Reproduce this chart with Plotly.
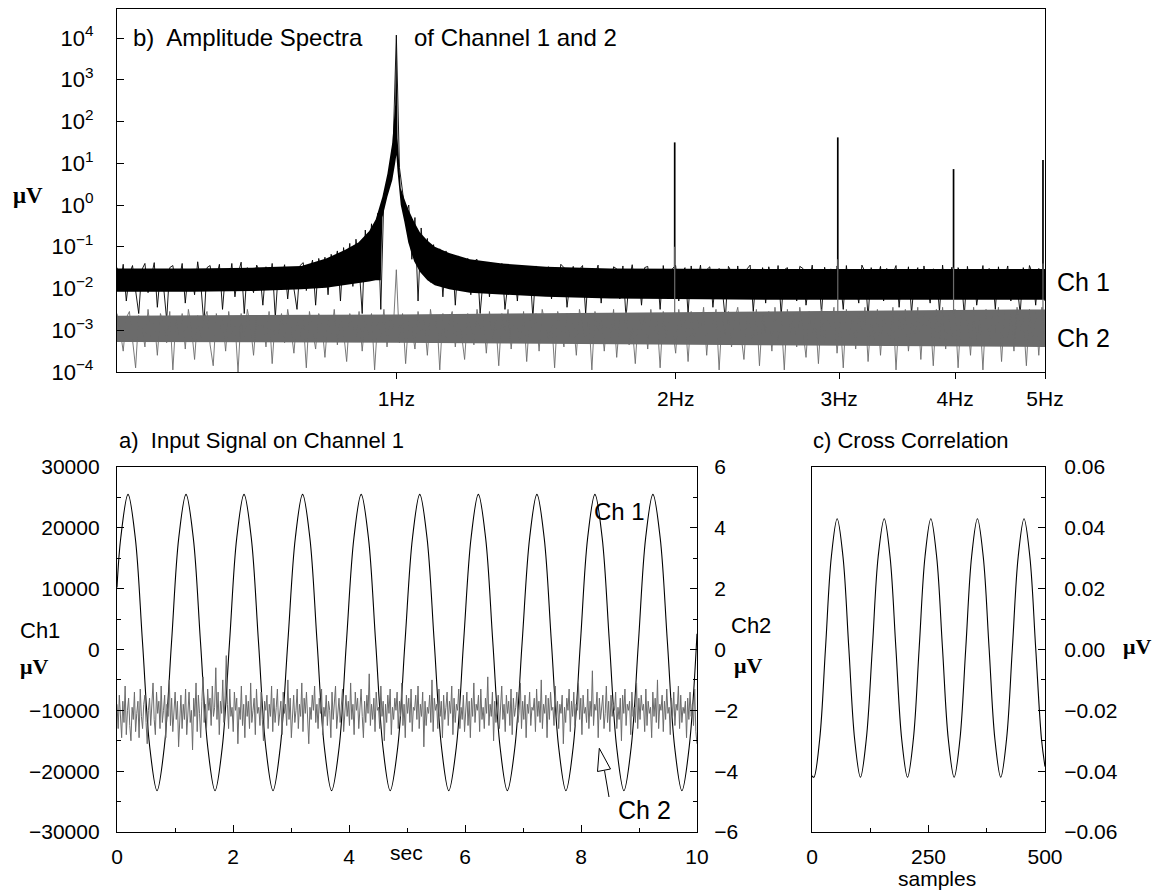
import numpy as np
import plotly.graph_objects as go

# the page body adds an 8 px margin, so the figure is drawn 8 px smaller and offset
OFF = 8
W, H = 1162 - OFF, 891 - OFF
SANS = "Liberation Sans, Arial, sans-serif"
SERIF = "Liberation Serif, Times New Roman, serif"
BLACK = "#000000"
GRAY = "#6b6b6b"

# ---------------- b) amplitude spectra (log10 of amplitude, read from picture) -------------
spec_f_min, spec_f_max = 0.5, 5.0
ch1_spec_log = [
    -1.5, -1.9, -1.42, -2.3, -1.65, -1.45, -2.05, -2.6, -1.55, -1.4,
    -2.1, -1.7, -1.38, -2.45, -1.6, -1.95, -2.75, -1.5, -1.45, -2.0,
    -1.8, -1.4, -2.35, -1.55, -1.62, -2.15, -1.36, -1.9, -2.85, -1.5,
    -1.45, -2.05, -1.7, -1.42, -2.5, -1.58, -1.95, -1.4, -2.2, -1.65,
    -1.37, -2.6, -1.5, -1.85, -2.1, -1.44, -1.6, -2.4, -1.48, -2.0,
    -1.4, -2.7, -1.55, -1.75, -1.43, -2.25, -1.5, -1.95, -2.5, -1.45,
    -1.38, -2.05, -1.6, -1.32, -2.4, -1.28, -1.7, -1.25, -2.15, -1.18,
    -1.5, -1.1, -2.3, -1.02, -1.6, -0.92, -1.95, -0.82, -1.45, -2.6,
    -0.6, -1.7, -0.45, -1.3, -0.2, -2.5, 0.25, 0.45, 0.9, 1.5,
    4.07, 0.9, 0.35, -0.25, 0.0, -1.3, -0.3, -2.3, -0.55, -1.5,
    -0.8, -1.85, -0.95, -1.9, -1.05, -2.2, -1.1, -2.0, -1.18, -2.4,
    -1.22, -1.5, -1.95, -1.28, -2.15, -1.35, -1.3, -2.6, -1.75, -1.38,
    -2.2, -1.42, -1.6, -2.0, -1.4, -2.5, -1.85, -1.45, -1.5, -2.3,
    -1.44, -2.05, -1.7, -1.52, -2.7, -1.46, -1.9, -2.15, -1.55, -1.48,
    -2.25, -1.6, -2.05, -1.42, -1.5, -2.45, -1.8, -1.47, -2.2, -1.55,
    -1.45, -2.6, -1.52, -2.0, -1.7, -1.44, -2.35, -1.56, -1.9, -2.1,
    -1.48, -1.53, -2.25, -1.46, -2.7, -1.8, -1.43, -2.0, -1.6, -2.4,
    -1.5, -1.47, -2.15, -1.75, -1.54, -2.5, -1.45, -2.05, -1.9, -1.52,
    -1.45, -2.3, -1.65, -1.5, -2.6, -1.46, -2.1, -1.85, -1.44, -2.2,
    -1.55, -1.48, -2.45, -1.7, -1.52, -2.0, -2.75, -1.47, -1.6, -2.25,
    -1.46, -2.1, -1.9, -1.53, -1.44, -2.55, -1.65, -2.0, -1.5, -2.35,
    -1.48, -1.8, -2.15, -1.45, -2.65, -1.55, -1.5, -2.05, -1.7, -2.3,
    -1.47, -1.52, -2.4, -1.85, -1.44, -2.2, -1.6, -2.6, -1.49, -1.95,
    -1.53, -2.25, -1.46, -1.75, -2.5, -1.45, -2.1, -1.55, -1.9, -2.35,
    -1.44, -1.6, -2.7, -1.5, -2.05, -1.8, -1.47, -2.3, -1.52, -2.15,
    -1.65, -1.45, -2.45, -1.55, -2.0, -1.48, -2.6, -1.7, -1.5, -2.2,
    -1.46, -1.9, -2.35, -1.53, -1.6, -2.55, -1.44, -2.1, -1.8, -1.49,
    -2.25, -1.5, -1.7, -2.65, -1.47, -2.0, -1.55, -2.4, -1.85, -1.45,
    -2.15, -1.52, -1.6, -2.5, -1.48, -2.05, -1.75, -1.46, -2.3, -1.54,
    -1.9, -2.6, -1.5, -2.1, -1.45, -1.65, -2.4, -1.52, -2.0, -2.3,
]
ch2_spec_log = [
    -2.6, -3.0, -3.5, -2.7, -2.55, -3.25, -3.9, -2.65, -2.9, -3.4,
    -2.5, -3.15, -2.75, -3.6, -2.6, -2.85, -3.3, -2.55, -3.95, -2.7,
    -3.1, -2.6, -3.45, -2.5, -2.95, -3.7, -2.65, -3.2, -2.75, -2.55,
    -3.35, -3.85, -2.6, -3.0, -2.7, -3.5, -2.55, -3.15, -2.8, -4.0,
    -2.6, -3.25, -2.5, -2.9, -3.6, -2.65, -3.05, -2.75, -3.4, -2.55,
    -3.8, -2.7, -3.1, -2.6, -3.3, -2.5, -2.95, -3.55, -2.65, -3.2,
    -2.75, -3.9, -2.55, -3.0, -3.45, -2.6, -2.85, -3.65, -2.7, -3.15,
    -2.5, -3.35, -2.65, -3.05, -3.75, -2.6, -2.9, -3.25, -2.55, -3.5,
    -2.7, -3.1, -2.6, -3.95, -2.75, -3.2, -2.5, -3.4, -2.65, -3.0,
    -1.55, -3.3, -2.6, -3.8, -2.7, -2.95, -3.45, -2.55, -3.15, -2.75,
    -3.6, -2.5, -3.05, -2.65, -3.95, -2.6, -3.25, -2.8, -2.55, -3.4,
    -2.7, -3.1, -3.7, -2.6, -2.9, -3.35, -2.5, -3.0, -2.65, -3.55,
    -2.55, -3.2, -2.75, -3.85, -2.6, -3.05, -2.5, -3.45, -2.7, -2.95,
    -3.3, -2.55, -3.75, -2.65, -3.1, -2.6, -3.5, -2.5, -2.85, -3.25,
    -2.7, -3.9, -2.55, -3.0, -3.4, -2.6, -3.15, -2.75, -3.6, -2.5,
    -2.95, -3.3, -2.65, -3.95, -2.55, -3.05, -2.7, -3.5, -2.6, -3.2,
    -2.5, -3.65, -2.75, -3.1, -2.55, -3.35, -2.9, -3.8, -2.6, -3.0,
    -2.65, -3.45, -2.5, -3.15, -2.7, -3.9, -2.55, -3.25, -2.6, -2.95,
    -3.55, -2.5, -3.05, -2.65, -3.75, -2.55, -3.3, -2.7, -3.1, -2.45,
    -3.6, -2.6, -3.0, -2.5, -3.95, -2.65, -3.2, -2.55, -3.4, -2.75,
    -2.45, -3.15, -3.7, -2.6, -2.9, -3.35, -2.5, -3.85, -2.65, -3.05,
    -2.55, -3.5, -2.45, -3.25, -2.7, -3.95, -2.5, -3.1, -2.6, -3.4,
    -2.45, -3.0, -3.65, -2.55, -3.2, -2.65, -3.8, -2.5, -3.3, -2.6,
    -2.95, -2.45, -3.55, -2.7, -3.9, -2.5, -3.15, -2.6, -3.45, -2.55,
    -3.05, -2.45, -3.75, -2.65, -3.25, -2.5, -3.6, -2.55, -2.9, -3.35,
    -2.45, -3.95, -2.6, -3.1, -2.5, -3.5, -2.7, -3.2, -2.45, -3.7,
    -2.55, -3.0, -2.65, -3.85, -2.5, -3.3, -2.45, -3.45, -2.6, -3.15,
    -2.5, -3.9, -2.55, -3.05, -2.7, -3.6, -2.45, -3.25, -2.6, -3.95,
    -2.5, -3.35, -2.65, -3.1, -2.45, -3.75, -2.55, -3.2, -2.6, -3.5,
    -2.45, -3.0, -2.7, -3.85, -2.5, -3.3, -2.55, -3.6, -2.45, -3.2,
]
# dense core of the Ch1 band (Hz, log10 upper, log10 lower)
ch1_core_f = [0.50, 0.60, 0.70, 0.79, 0.84, 0.88, 0.91, 0.935, 0.950, 0.962, 0.966, 0.978,
              0.990, 0.997, 1.000, 1.003, 1.011, 1.020, 1.030, 1.045, 1.06, 1.08, 1.10, 1.14,
              1.2, 1.3, 1.45, 1.7, 2.5, 5.0]
ch1_core_hi = [-1.52, -1.52, -1.5, -1.46, -1.28, -1.08, -0.9, -0.62, -0.35, 0.1, 0.2, 0.75,
               1.5, 2.4, 4.05, 1.6, 0.4, 0.15, -0.1, -0.4, -0.65, -0.85, -1.0, -1.15,
               -1.3, -1.4, -1.48, -1.52, -1.53, -1.53]
ch1_core_lo = [-2.08, -2.08, -2.06, -2.02, -1.98, -1.92, -1.87, -1.83, -1.8, -1.8, -0.3, 0.2,
               0.6, 1.0, 1.2, 0.8, 0.0, -0.4, -0.9, -1.35, -1.6, -1.8, -1.92, -2.02,
               -2.1, -2.15, -2.2, -2.24, -2.27, -2.27]
ch2_core_f = [0.5, 1.0, 2.0, 5.0]
ch2_core_hi = [-2.65, -2.62, -2.57, -2.5]
ch2_core_lo = [-3.28, -3.3, -3.34, -3.4]
# harmonic lines (Hz, log10 peak)
harm_f = [1.995, 2.99, 3.985, 4.975]
ch1_harm_log = [1.5, 1.62, 0.86, 1.08]
ch2_harm_log = [-1.0, -1.3, -1.5, -1.4]
spec_tick_f = [1, 2, 3, 4, 5]
spec_tick_text = ["1Hz", "2Hz", "3Hz", "4Hz", "5Hz"]
spec_decades = [-4, -3, -2, -1, 0, 1, 2, 3, 4]

# ---------------- a) input signal -----------------
ch1_t = [0.0, 0.065, 0.19, 0.315, 0.44, 0.565, 0.69, 0.815, 0.94,
         1.065, 1.19, 1.315, 1.44, 1.565, 1.69, 1.815, 1.94,
         2.065, 2.19, 2.315, 2.44, 2.565, 2.69, 2.815, 2.945,
         3.075, 3.20, 3.325, 3.45, 3.575, 3.70, 3.83, 3.955,
         4.085, 4.21, 4.335, 4.46, 4.585, 4.71, 4.84, 4.965,
         5.095, 5.22, 5.345, 5.47, 5.595, 5.72, 5.85, 5.975,
         6.105, 6.23, 6.355, 6.48, 6.605, 6.73, 6.86, 6.985,
         7.115, 7.24, 7.365, 7.49, 7.615, 7.74, 7.865, 7.99,
         8.115, 8.24, 8.365, 8.49, 8.615, 8.74, 8.865, 8.99,
         9.115, 9.24, 9.365, 9.49, 9.615, 9.74, 9.865, 10.0]
ch1_uv = [10200, 18370, 25500, 18370, 1150, -16070, -23200, -16070, 1150,
          18370, 25500, 18370, 1150, -16070, -23200, -16070, 1150,
          18370, 25500, 18370, 1150, -16070, -23200, -16070, 1150,
          18370, 25500, 18370, 1150, -16070, -23200, -16070, 1150,
          18370, 25500, 18370, 1150, -16070, -23200, -16070, 1150,
          18370, 25500, 18370, 1150, -16070, -23200, -16070, 1150,
          18370, 25500, 18370, 1150, -16070, -23200, -16070, 1150,
          18370, 25500, 18370, 1150, -16070, -23200, -16070, 1150,
          18370, 25500, 18370, 1150, -16070, -23200, -16070, 1150,
          18370, 25500, 18370, 1150, -16070, -23200, -16070, 2600]
ch2_uv = [
    -1.8, -2.6, -1.5, -2.2, -2.9, -1.7, -2.4, -1.2, -2.8, -2.0,
    -1.6, -2.5, -3.0, -1.9, -2.3, -1.4, -2.7, -2.1, -1.7, -2.9,
    -1.3, -2.2, -2.6, -1.8, -1.5, -2.4, -3.1, -2.0, -1.6, -2.5,
    -1.9, -1.1, -2.3, -2.8, -1.4, -2.1, -1.7, -2.6, -1.2, -2.4,
    -2.0, -1.5, -2.9, -1.8, -2.2, -1.0, -2.5, -1.6, -2.7, -1.9,
    -1.4, -2.3, -1.7, -3.2, -2.1, -1.5, -2.6, -1.8, -2.3, -1.3,
    -2.8, -1.9, -1.4, -2.4, -2.0, -3.3, -1.6, -2.2, -1.1, -2.7,
    -1.5, -2.1, -2.9, -1.7, -0.9, -2.4, -1.8, -2.6, -1.3, -2.0,
    -1.6, -2.5, -1.2, -2.2, -1.9, -0.6, -2.3, -1.4, -2.8, -1.7,
    -2.1, -1.0, -2.4, -1.5, -0.2, -1.8, -2.6, -1.3, -2.2, -1.9,
    -2.7, -1.4, -2.0, -1.6, -3.1, -1.9, -2.3, -1.2, -2.5, -1.8,
    -2.9, -1.5, -2.2, -1.7, -2.6, -1.1, -2.4, -2.0, -1.6, -2.8,
    -1.3, -2.1, -1.9, -2.5, -1.4, -2.3, -3.0, -1.7, -2.0, -1.5,
    -2.6, -1.8, -2.2, -1.2, -2.7, -1.6, -2.4, -1.9, -1.3, -2.5,
    -2.0, -1.7, -2.8, -1.4, -2.1, -1.8, -2.5, -1.0, -2.3, -1.6,
    -2.9, -1.9, -1.5, -2.4, -2.0, -1.3, -2.6, -1.8, -2.2, -1.1,
    -2.7, -1.6, -2.1, -1.4, -2.5, -3.1, -1.9, -2.3, -1.5, -2.0,
    -1.2, -2.4, -1.8, -2.6, -1.6, -2.1, -1.3, -2.8, -1.9, -2.2,
    -1.5, -2.5, -1.7, -2.0, -2.9, -1.4, -2.3, -1.8, -1.2, -2.6,
    -2.1, -1.6, -2.4, -1.9, -1.3, -2.7, -2.0, -1.5, -2.2, -1.7,
    -2.5, -1.1, -2.3, -1.8, -2.8, -1.4, -2.0, -1.6, -2.6, -1.9,
    -1.3, -2.2, -2.9, -1.7, -2.4, -1.5, -2.1, -0.8, -2.5, -1.8,
    -2.3, -1.6, -2.7, -1.4, -2.0, -1.9, -2.6, -1.2, -2.2, -1.7,
    -3.0, -1.8, -2.4, -1.5, -2.1, -1.3, -2.8, -1.9, -2.3, -1.6,
    -2.0, -1.4, -2.6, -1.7, -2.2, -1.1, -2.5, -1.8, -2.9, -1.5,
    -2.1, -1.6, -2.4, -1.3, -2.7, -1.9, -2.0, -1.5, -2.3, -1.2,
    -2.6, -1.8, -2.2, -1.4, -3.2, -1.7, -2.5, -1.9, -2.1, -1.5,
    -2.4, -1.0, -2.7, -1.6, -2.0, -1.8, -2.6, -1.3, -2.2, -1.7,
    -2.9, -1.5, -2.3, -1.9, -1.4, -2.5, -1.7, -2.1, -1.2, -2.8,
    -1.6, -2.4, -1.8, -2.0, -1.3, -2.6, -1.9, -2.3, -1.5, -2.7,
    -2.1, -1.4, -2.5, -1.7, -2.9, -1.6, -2.2, -1.1, -2.4, -1.8,
    -2.0, -1.5, -2.7, -1.3, -2.3, -1.9, -2.6, -1.6, -2.1, -0.9,
    -2.5, -1.8, -2.2, -1.4, -3.0, -1.7, -2.4, -1.9, -1.5, -2.6,
    -2.0, -1.2, -2.3, -1.8, -2.7, -1.5, -2.1, -1.7, -2.5, -1.3,
    -2.8, -1.6, -2.2, -1.9, -1.4, -2.4, -2.0, -1.1, -2.6, -1.7,
    -2.3, -1.5, -2.9, -1.8, -2.1, -1.4, -2.5, -1.9, -2.0, -1.6,
    -2.7, -1.3, -2.2, -1.7, -2.4, -1.0, -2.6, -1.8, -2.1, -1.5,
    -2.9, -1.6, -2.3, -1.4, -2.0, -1.9, -2.5, -1.2, -2.2, -1.7,
    -2.6, -1.8, -2.1, -1.5, -3.1, -1.9, -2.4, -1.6, -2.0, -1.3,
    -2.7, -1.7, -2.2, -1.4, -2.5, -1.8, -2.0, -1.1, -2.3, -1.6,
    -2.8, -1.5, -2.1, -1.9, -2.4, -1.3, -2.6, -1.7, -2.2, -0.7,
    -2.5, -1.8, -2.0, -1.4, -2.9, -1.6, -2.3, -1.9, -1.5, -2.6,
    -2.1, -1.2, -2.4, -1.7, -2.7, -1.5, -2.2, -1.8, -2.0, -1.4,
    -2.6, -1.9, -2.3, -1.6, -3.0, -1.5, -2.1, -1.3, -2.5, -1.8,
    -2.0, -1.7, -2.8, -1.4, -2.2, -1.9, -2.4, -1.1, -2.6, -1.6,
    -2.3, -1.5, -2.0, -1.8, -2.7, -1.3, -2.5, -1.7, -2.1, -1.9,
    -2.9, -1.4, -2.2, -1.6, -2.4, -1.0, -2.6, -1.8, -2.0, -1.5,
    -2.7, -1.7, -2.3, -1.3, -2.1, -1.9, -2.8, -1.6, -2.2, -1.4,
    -2.5, -1.8, -2.0, -1.2, -2.6, -1.5, -2.4, -1.9, -2.1, -1.7,
    -2.9, -1.6, -2.3, -1.4, -2.2, -1.8, -2.5, -1.3, -2.7, -3.1,
]
sig_t_end = 10.0

# ---------------- c) cross correlation -----------------
xc_lag = [0, 4, 16.5, 29, 41.5, 54, 66.5, 79, 91.5, 104, 116.5, 129.5, 142, 155, 167.5, 180,
          192.5, 205, 217.5, 230, 242.5, 255, 267.5, 280, 292.5, 305, 317.5, 330, 342.5, 355,
          367.5, 380, 392.5, 405, 417.5, 430, 442.5, 455, 467.5, 480, 492.5, 500]
xc_val = [-0.0415, -0.042, -0.0295, 0.0005, 0.0305, 0.043, 0.0305, 0.0005, -0.0295, -0.042,
          -0.0295, 0.0005, 0.0305, 0.043, 0.0305, 0.0005, -0.0295, -0.042, -0.0295, 0.0005,
          0.0305, 0.043, 0.0305, 0.0005, -0.0295, -0.042, -0.0295, 0.0005, 0.0305, 0.043,
          0.0305, 0.0005, -0.0295, -0.042, -0.0295, 0.0005, 0.0305, 0.043, 0.0305, 0.0005,
          -0.0295, -0.0385]


def px(x):
    return (x - OFF) / W


def py(y):
    return 1 - (y - OFF) / H


def pw(v):
    return [10.0 ** a for a in v]


fig = go.Figure()

# spectra
spec_f = np.logspace(np.log10(spec_f_min), np.log10(spec_f_max), len(ch1_spec_log))
fig.add_trace(go.Scatter(x=ch1_core_f + ch1_core_f[::-1], y=pw(ch1_core_hi) + pw(ch1_core_lo)[::-1],
                         fill="toself", fillcolor=BLACK, line=dict(width=0), mode="lines",
                         xaxis="x", yaxis="y", hoverinfo="skip"))
fig.add_trace(go.Scatter(x=spec_f, y=pw(ch1_spec_log), mode="lines",
                         line=dict(color=BLACK, width=0.9), xaxis="x", yaxis="y"))
hx, hy = [], []
for f, a in zip(harm_f, ch1_harm_log):
    hx += [f, f, None]
    hy += [10 ** -1.6, 10 ** a, None]
fig.add_trace(go.Scatter(x=hx, y=hy, mode="lines", line=dict(color=BLACK, width=1.7),
                         xaxis="x", yaxis="y"))
spec_f2 = np.logspace(np.log10(spec_f_min), np.log10(spec_f_max), len(ch2_spec_log))
fig.add_trace(go.Scatter(x=ch2_core_f + ch2_core_f[::-1], y=pw(ch2_core_hi) + pw(ch2_core_lo)[::-1],
                         fill="toself", fillcolor=GRAY, line=dict(width=0), mode="lines",
                         xaxis="x", yaxis="y", hoverinfo="skip"))
fig.add_trace(go.Scatter(x=spec_f2, y=pw(ch2_spec_log), mode="lines",
                         line=dict(color=GRAY, width=0.9), xaxis="x", yaxis="y"))
gx, gy = [], []
for f, a in zip(harm_f, ch2_harm_log):
    gx += [f, f, None]
    gy += [10 ** -2.6, 10 ** a, None]
fig.add_trace(go.Scatter(x=gx, y=gy, mode="lines", line=dict(color=GRAY, width=1.2),
                         xaxis="x", yaxis="y"))

# input signal
fig.add_trace(go.Scatter(x=ch1_t, y=ch1_uv, mode="lines",
                         line=dict(color=BLACK, width=1.1, shape="spline", smoothing=1.0),
                         xaxis="x2", yaxis="y2"))
sig_t = np.linspace(0, sig_t_end, len(ch2_uv))
fig.add_trace(go.Scatter(x=sig_t, y=ch2_uv, mode="lines", line=dict(color=GRAY, width=1.0),
                         xaxis="x2", yaxis="y3"))

# cross correlation
fig.add_trace(go.Scatter(x=xc_lag, y=xc_val, mode="lines",
                         line=dict(color=BLACK, width=1.1, shape="spline", smoothing=1.0),
                         xaxis="x3", yaxis="y4"))

axcommon = dict(showline=True, linecolor=BLACK, linewidth=1.3, showgrid=False, zeroline=False,
                automargin=False,
                tickcolor=BLACK, tickwidth=1.2, tickfont=dict(family=SANS, size=21, color=BLACK))
y_top, y_bot = 9, 372
b_top, b_bot = 467, 832

fig.update_layout(
    width=W, height=H, margin=dict(l=0, r=0, t=0, b=0, autoexpand=False),
    paper_bgcolor="white", plot_bgcolor="white", showlegend=False,
    xaxis=dict(axcommon, type="log", domain=[px(117), px(1045)], anchor="y",
               range=[np.log10(spec_f_min), np.log10(spec_f_max)],
               tickmode="array", tickvals=spec_tick_f, ticktext=spec_tick_text,
               ticks="outside", ticklen=6, mirror=True, ticklabelstandoff=2),
    yaxis=dict(axcommon, type="log", domain=[py(y_bot), py(y_top)], anchor="x",
               range=[-4, 4.695], tickmode="array",
               tickvals=[10.0 ** k for k in spec_decades],
               ticktext=["10<sup>%s</sup>" % (str(k).replace("-", "\u2212")) for k in spec_decades],
               ticks="inside", ticklen=7, mirror=True, ticklabelstandoff=18,
               tickfont=dict(family=SANS, size=22, color=BLACK)),
    xaxis2=dict(axcommon, domain=[px(117), px(697)], anchor="y2", range=[0, 10],
                tickmode="linear", tick0=0, dtick=2, ticks="inside", ticklen=7, mirror=True,
                minor=dict(ticks="inside", ticklen=4, dtick=1, tick0=0, showgrid=False),
                ticklabelstandoff=6),
    yaxis2=dict(axcommon, domain=[py(b_bot), py(b_top)], anchor="x2", range=[-30000, 30000],
                tickmode="linear", tick0=0, dtick=10000, tickformat="d", ticks="inside", ticklen=7,
                minor=dict(ticks="inside", ticklen=4, dtick=5000, tick0=0, showgrid=False),
                ticklabelstandoff=12),
    yaxis3=dict(axcommon, overlaying="y2", side="right", anchor="x2", range=[-6, 6],
                tickmode="linear", tick0=0, dtick=2, ticks="inside", ticklen=7,
                minor=dict(ticks="inside", ticklen=4, dtick=1, tick0=0, showgrid=False),
                ticklabelstandoff=12),
    xaxis3=dict(axcommon, domain=[px(812), px(1045)], anchor="y4", range=[0, 500],
                tickmode="linear", tick0=0, dtick=250, ticks="inside", ticklen=7, mirror=True,
                minor=dict(ticks="inside", ticklen=4, dtick=125, tick0=0, showgrid=False),
                ticklabelstandoff=6),
    yaxis4=dict(axcommon, domain=[py(b_bot), py(b_top)], anchor="x3", side="right",
                range=[-0.06, 0.06], tickmode="linear", tick0=0, dtick=0.02, tickformat=".2f",
                ticks="inside", ticklen=7, mirror=True,
                minor=dict(ticks="inside", ticklen=4, dtick=0.01, tick0=0, showgrid=False),
                ticklabelstandoff=14),
)


def label(text, x, y, size=22, xanchor="left", family=SANS):
    fig.add_annotation(text=text, x=px(x), y=py(y), xref="paper", yref="paper",
                       xanchor=xanchor, yanchor="middle", showarrow=False,
                       font=dict(family=family, size=size, color=BLACK))


label("b)  Amplitude Spectra", 131, 37, size=24)
label("of Channel 1 and 2", 412, 37, size=24)
label("Ch 1", 1055, 282, size=25)
label("Ch 2", 1055, 338, size=25)
label("<b>\u03bcV</b>", 28, 195, size=23, xanchor="center", family=SERIF)

label("a)  Input Signal on Channel 1", 117, 440, size=22)
label("c) Cross Correlation", 811, 440, size=22)
label("Ch1", 40, 630, size=22, xanchor="center")
label("<b>\u03bcV</b>", 34, 666, size=22, xanchor="center", family=SERIF)
label("Ch2", 751, 625, size=22, xanchor="center")
label("<b>\u03bcV</b>", 748, 665, size=22, xanchor="center", family=SERIF)
label("<b>\u03bcV</b>", 1137, 646, size=22, xanchor="center", family=SERIF)
label("sec", 406, 852, size=21, xanchor="center")
label("samples", 937, 878, size=21, xanchor="center")
label("Ch 1", 619, 511, size=24, xanchor="center")
label("Ch 2", 644, 810, size=25, xanchor="center")

# arrow pointing to the Ch2 trace
fig.add_shape(type="line", xref="paper", yref="paper",
              x0=px(609), y0=py(797), x1=px(604.5), y1=py(770.5),
              line=dict(color=BLACK, width=1))
fig.add_shape(type="path", xref="paper", yref="paper",
              path="M %f,%f L %f,%f L %f,%f Z" % (px(599.3), py(748.3), px(597.5), py(771.5),
                                                  px(610.5), py(769)),
              line=dict(color=BLACK, width=1), fillcolor="white")

fig.write_html("out.html")
